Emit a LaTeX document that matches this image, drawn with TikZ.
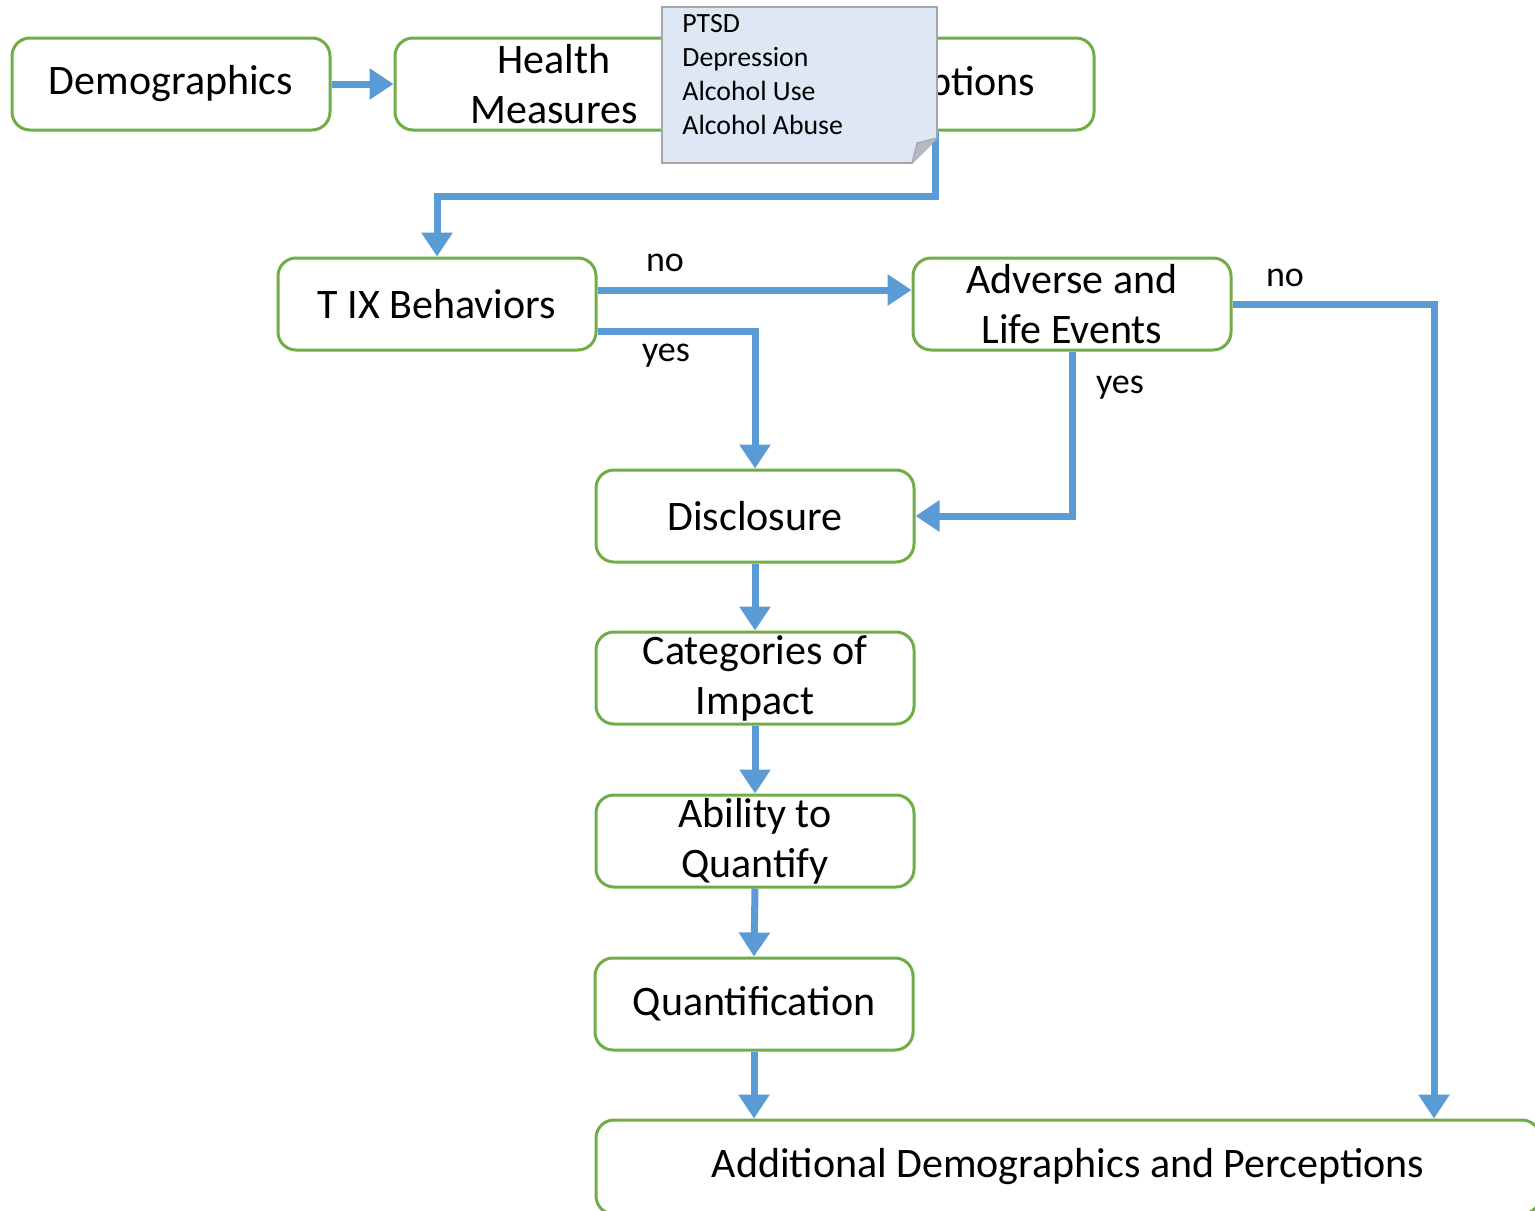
\documentclass[tikz,border=0pt]{standalone}
\usepackage{fontspec}
\setmainfont{Carlito}
\usetikzlibrary{arrows.meta,calc}
\definecolor{flowblue}{HTML}{5B9BD5}
\definecolor{boxgreen}{HTML}{70AD47}
\definecolor{notefill}{HTML}{DDE8F4}
\definecolor{noteedge}{HTML}{A6A6A6}
\definecolor{foldgray}{HTML}{B3BAC2}
\tikzset{
  stage/.style={draw=boxgreen, line width=1.5pt, rounded corners=9pt, fill=white,
    minimum width=159pt, minimum height=46pt, inner sep=0pt, align=center,
    font=\fontsize{21}{25}\selectfont},
  flow/.style={draw=flowblue, line width=3.5pt,
    -{Triangle[length=12pt,width=15pt]}},
  tag/.style={font=\fontsize{18}{20}\selectfont, inner sep=0pt},
}
\begin{document}
\begin{tikzpicture}[x=0.5pt,y=-0.5pt]
\useasboundingbox (0,0) rectangle (1535,1210);
\clip (0,0) rectangle (1535,1210);

% process stages
\node[stage] (demo) at (171,84) {Demographics};
\node[stage] (health) at (554,84) {Health\\Measures};
\node[stage] (perc) at (935,84) {Perceptions};
\node[stage] (tix) at (437,304) {T IX Behaviors};
\node[stage] (adv) at (1072,304) {Adverse and\\Life Events};
\node[stage] (disc) at (755,516) {Disclosure};
\node[stage] (cat) at (755,678) {Categories of\\Impact};
\node[stage] (abil) at (755,841) {Ability to\\Quantify};
\node[stage] (quant) at (754,1004) {Quantification};
\node[stage, minimum width=472pt, minimum height=47pt] (add) at (1068,1167)
  {Additional Demographics and Perceptions};

\coordinate (nobend) at (1434,304);

% connectors
\draw[flow] (demo.east) -- (health.west);
\draw[flow] (health.east) -- (perc.west);
\draw[flow] (perc.south) -- ++(0,65) -| (tix.north);
\draw[flow] ([yshift=7pt]tix.east) -- ([yshift=7pt]adv.west);
\draw[flow] ([yshift=-13.5pt]tix.east) -| (disc.north);
\draw[flow] (adv.east) -- (nobend) -- (nobend |- add.north);
\draw[flow] (adv.south) |- (disc.east);
\draw[flow] (disc.south) -- (cat.north);
\draw[flow] (cat.south) -- (abil.north);
\draw[flow] (abil.south) -- (quant.north);
\draw[flow] (quant.south) -- (add.north -| quant.south);

% branch labels
\node[tag] (tno) at (665,263) {no};
\node[tag] (tyes) at (666,356) {yes};
\node[tag] (ano) at (1285,278) {no};
\node[tag] (ayes) at (1120,388) {yes};

% sticky note with folded corner
\fill[notefill] (662,7) -- (937,7) -- (937,138) -- (912,163) -- (662,163) -- cycle;
\draw[noteedge, line width=0.8pt] (662,7) -- (937,7) -- (937,138) -- (912,163) -- (662,163) -- cycle;
\fill[foldgray] (937,138) -- (912,163) -- (917,143) -- cycle;
\draw[noteedge, line width=0.6pt] (937,138) -- (917,143) -- (912,163);
\node[anchor=north west, align=left, inner sep=0pt,
  font=\fontsize{13.9}{17}\selectfont] (note) at (682,14)
  {PTSD\\Depression\\Alcohol Use\\Alcohol Abuse};
\end{tikzpicture}
\end{document}
